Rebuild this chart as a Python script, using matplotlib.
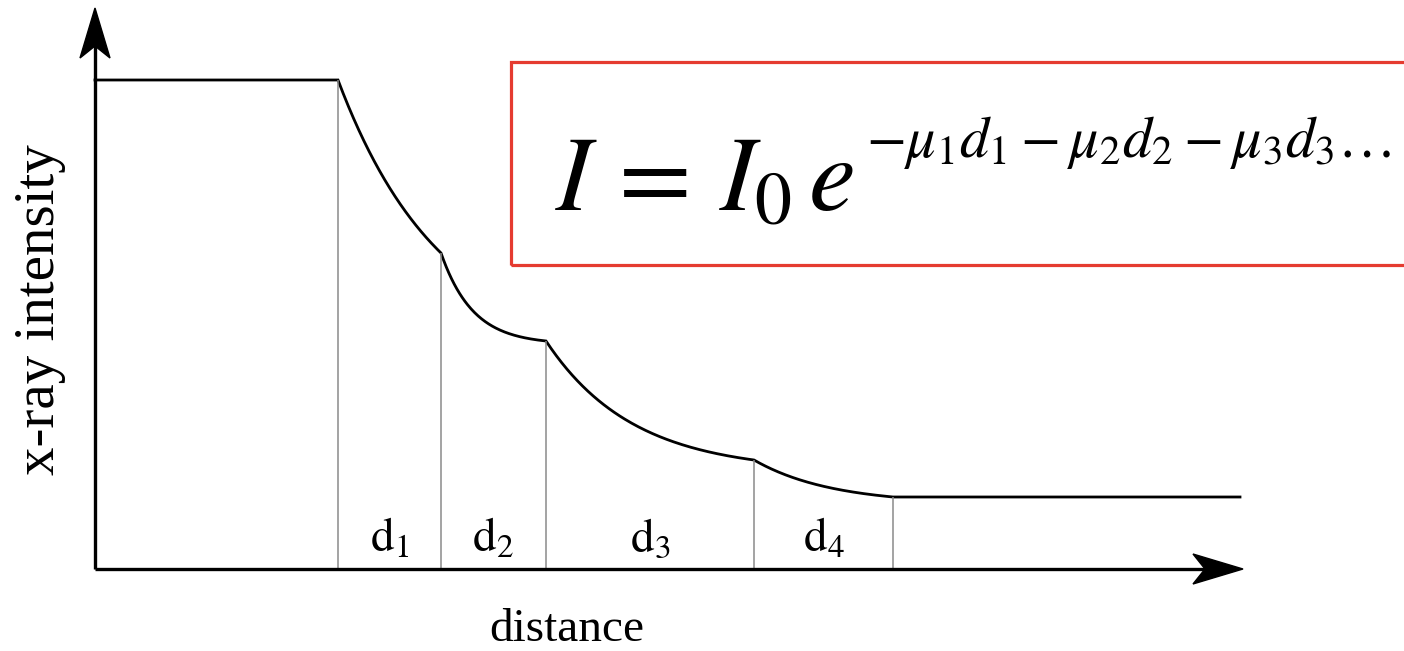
import numpy as np
import matplotlib.pyplot as plt
from matplotlib.patches import Rectangle, Polygon

plt.rcParams['font.family'] = ['Liberation Serif', 'DejaVu Serif']
plt.rcParams['mathtext.fontset'] = 'stix'

# layer boundaries along the distance axis and beam intensity at each boundary
edges = [243, 346, 451, 659, 798]
levels = [489, 316, 228, 109, 72]
# how sharply the intensity drops inside each layer
bend = [1.0, 3.3, 2.4, 1.8]
layer_labels = [r'$\mathrm{d}_1$', r'$\mathrm{d}_2$', r'$\mathrm{d}_3$', r'$\mathrm{d}_4$']
x_end = 1145
formula_base = r'$I\,=\,I_0\,e$'
formula_exp = r'$-\mu_1 d_1 - \mu_2 d_2 - \mu_3 d_3 \ldots$'

fig = plt.figure(figsize=(14.04, 6.51), dpi=100)
ax = fig.add_axes([0, 0, 1, 1])
ax.set_xlim(-95, 1309)
ax.set_ylim(-82, 569)
ax.axis('off')

# build the attenuation curve, layer by layer
xs = [0, edges[0]]
ys = [levels[0], levels[0]]
for i, k in enumerate(bend):
    t = np.linspace(0, 1, 120)
    f = (np.exp(-k * t) - np.exp(-k)) / (1 - np.exp(-k))
    xs.extend(edges[i] + t * (edges[i + 1] - edges[i]))
    ys.extend(levels[i + 1] + (levels[i] - levels[i + 1]) * f)
xs.append(x_end)
ys.append(levels[-1])
ax.plot(xs, ys, color='black', lw=2.0, solid_joinstyle='miter')

# thin dividers under each layer boundary
ax.vlines(edges, 0, levels, color='#8a8a8a', lw=1.1)

for i, lab in enumerate(layer_labels):
    ax.text((edges[i] + edges[i + 1]) / 2, 17, lab, fontsize=34,
            ha='center', va='baseline')

# axes with stealth-like arrowheads
y_tip, x_tip = 561, 1148
ax.plot([0, 0], [0, y_tip - 20], color='black', lw=2.4, solid_capstyle='butt')
ax.plot([0, x_tip - 20], [0, 0], color='black', lw=2.4, solid_capstyle='butt')
hl, hw, notch = 50, 15, 12
ax.add_patch(Polygon([[0, y_tip], [hw, y_tip - hl], [0, y_tip - hl + notch],
                      [-hw, y_tip - hl]], closed=True, color='black'))
ax.add_patch(Polygon([[x_tip, 0], [x_tip - hl, hw], [x_tip - hl + notch, 0],
                      [x_tip - hl, -hw]], closed=True, color='black'))

ax.text(472, -72, 'distance', fontsize=34, ha='center', va='baseline')
ax.text(-55, 259, 'x-ray intensity', fontsize=41, rotation=90,
        ha='center', va='center')

# formula box, running off the right edge
ax.add_patch(Rectangle((416, 304), 950, 203, fill=False,
                       edgecolor='#e53b30', lw=2.3))
ax.text(460, 359, formula_base, fontsize=76, ha='left', va='baseline')
ax.text(771, 412, formula_exp, fontsize=42, ha='left', va='baseline')

fig.savefig('out.png', dpi=100)
